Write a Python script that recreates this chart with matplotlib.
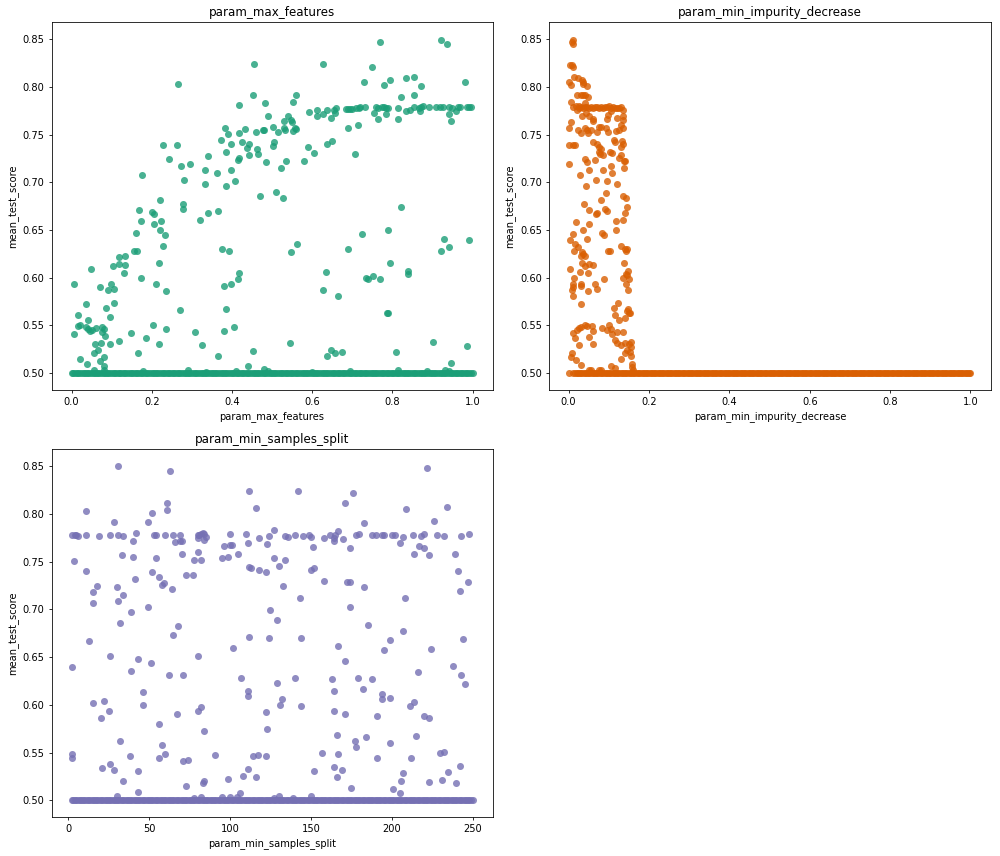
import numpy as np
import matplotlib
matplotlib.use("Agg")
import matplotlib.pyplot as plt

# (param value, mean_test_score)
max_features_pts = [
    (0.007,0.593),(0.006,0.541),(0.016,0.561),(0.016,0.549),(0.022,0.550),(0.035,0.548),(0.035,0.573),(0.04,0.556),
    (0.04,0.546),(0.047,0.544),(0.048,0.609),(0.052,0.545),(0.06,0.547),(0.058,0.531),(0.057,0.521),(0.065,0.524),
    (0.07,0.513),(0.07,0.59),(0.073,0.532),(0.076,0.548),(0.076,0.543),(0.08,0.546),(0.08,0.517),(0.08,0.507),
    (0.083,0.539),(0.085,0.568),(0.09,0.587),(0.095,0.559),(0.095,0.531),(0.098,0.593),(0.103,0.612),(0.105,0.588),
    (0.106,0.574),(0.118,0.534),(0.118,0.622),(0.118,0.614),(0.13,0.605),(0.133,0.613),(0.133,0.623),(0.148,0.542),
    (0.155,0.628),(0.16,0.647),(0.162,0.628),(0.165,0.521),(0.168,0.671),(0.173,0.66),(0.173,0.6),(0.176,0.708),
    (0.185,0.537),(0.2,0.669),(0.203,0.551),(0.205,0.656),(0.206,0.667),(0.21,0.593),(0.217,0.616),(0.218,0.531),
    (0.22,0.65),(0.22,0.682),(0.223,0.66),(0.228,0.633),(0.228,0.739),(0.234,0.645),(0.235,0.586),(0.235,0.546),
    (0.243,0.725),(0.263,0.739),(0.265,0.803),(0.27,0.566),(0.272,0.717),(0.277,0.672),(0.277,0.677),(0.28,0.703),
    (0.295,0.719),(0.308,0.543),(0.32,0.661),(0.325,0.53),(0.332,0.698),(0.332,0.713),(0.34,0.668),(0.34,0.728),
    (0.365,0.518),(0.365,0.67),(0.363,0.71),(0.373,0.745),(0.375,0.63),(0.38,0.544),(0.38,0.591),(0.383,0.757),
    (0.385,0.567),(0.385,0.696),(0.385,0.732),(0.393,0.628),(0.39,0.751),(0.397,0.593),(0.398,0.74),(0.398,0.713),
    (0.406,0.548),(0.408,0.701),(0.415,0.599),(0.416,0.724),(0.418,0.726),(0.418,0.605),(0.418,0.752),(0.418,0.781),
    (0.425,0.742),(0.432,0.756),(0.437,0.736),(0.44,0.508),(0.442,0.729),(0.443,0.74),(0.453,0.523),(0.453,0.792),
    (0.455,0.824),(0.46,0.753),(0.463,0.735),(0.465,0.73),(0.47,0.686),(0.478,0.755),(0.48,0.755),(0.483,0.783),
    (0.485,0.721),(0.49,0.77),(0.503,0.738),(0.505,0.742),(0.503,0.758),(0.51,0.69),(0.515,0.753),(0.522,0.715),
    (0.528,0.684),(0.53,0.757),(0.53,0.764),(0.533,0.755),(0.535,0.723),(0.54,0.77),(0.545,0.532),(0.548,0.766),
    (0.548,0.627),(0.55,0.763),(0.553,0.784),(0.553,0.754),(0.557,0.757),(0.56,0.756),(0.56,0.792),(0.563,0.635),
    (0.58,0.723),(0.59,0.737),(0.593,0.774),(0.605,0.731),(0.613,0.776),(0.613,0.77),(0.628,0.772),(0.628,0.824),
    (0.628,0.587),(0.635,0.606),(0.637,0.518),(0.637,0.74),(0.637,0.776),(0.648,0.524),(0.648,0.768),(0.65,0.743),
    (0.655,0.776),(0.658,0.521),(0.658,0.773),(0.66,0.778),(0.665,0.581),(0.675,0.522),(0.685,0.777),(0.69,0.63),
    (0.69,0.777),(0.688,0.757),(0.695,0.777),(0.70,0.777),(0.706,0.73),(0.71,0.778),(0.713,0.76),(0.716,0.778),
    (0.72,0.779),(0.723,0.646),(0.73,0.805),(0.732,0.779),(0.735,0.60),(0.738,0.599),(0.75,0.821),(0.752,0.602),
    (0.755,0.773),(0.76,0.779),(0.763,0.767),(0.765,0.778),(0.77,0.847),(0.77,0.599),(0.773,0.779),(0.78,0.802),
    (0.78,0.779),(0.785,0.772),(0.785,0.778),(0.786,0.563),(0.788,0.563),(0.788,0.65),(0.79,0.778),(0.793,0.807),
    (0.795,0.615),(0.808,0.522),(0.815,0.778),(0.815,0.767),(0.822,0.79),(0.822,0.674),(0.833,0.775),(0.835,0.81),
    (0.84,0.604),(0.84,0.607),(0.845,0.776),(0.853,0.779),(0.855,0.811),(0.855,0.792),(0.865,0.778),(0.868,0.775),
    (0.87,0.801),(0.87,0.779),(0.875,0.78),(0.892,0.779),(0.902,0.533),(0.908,0.779),(0.918,0.779),(0.92,0.628),
    (0.922,0.849),(0.925,0.779),(0.928,0.641),(0.935,0.845),(0.94,0.779),(0.942,0.632),(0.942,0.772),(0.945,0.764),
    (0.945,0.511),(0.948,0.778),(0.958,0.775),(0.963,0.779),(0.968,0.779),(0.982,0.805),(0.985,0.528),(0.985,0.779),
    (0.99,0.64),(0.99,0.779),(0.996,0.779),(0.022,0.515),(0.038,0.51),(0.055,0.503),(0.08,0.503),(0.178,0.502),
    (0.29,0.503),(0.335,0.501),(0.41,0.502),(0.48,0.504),(0.49,0.502),(0.6,0.501),(0.695,0.502),(0.815,0.503),
    (0.885,0.502),(0.93,0.503),(0.94,0.502),
]

impurity_pts = [
    (0.002,0.719),(0.002,0.739),(0.002,0.757),(0.002,0.805),(0.003,0.823),(0.006,0.763),(0.006,0.784),(0.006,0.802),
    (0.008,0.823),(0.009,0.847),(0.01,0.849),(0.012,0.845),(0.012,0.821),(0.01,0.779),(0.01,0.739),(0.015,0.739),
    (0.014,0.811),(0.02,0.792),(0.023,0.81),(0.018,0.78),(0.025,0.78),(0.022,0.776),(0.018,0.659),(0.01,0.646),
    (0.003,0.64),(0.015,0.635),(0.013,0.628),(0.023,0.632),(0.003,0.609),(0.013,0.6),(0.01,0.593),(0.01,0.59),
    (0.009,0.587),(0.01,0.581),(0.028,0.606),(0.03,0.593),(0.032,0.591),(0.03,0.573),(0.03,0.623),(0.033,0.627),
    (0.033,0.615),(0.036,0.625),(0.04,0.612),(0.042,0.623),(0.048,0.605),(0.05,0.614),(0.06,0.613),(0.048,0.586),
    (0.066,0.593),(0.07,0.588),(0.088,0.599),(0.045,0.641),(0.05,0.656),(0.035,0.65),(0.038,0.677),(0.05,0.671),
    (0.068,0.667),(0.07,0.668),(0.08,0.682),(0.082,0.647),(0.088,0.645),(0.09,0.672),(0.095,0.67),(0.093,0.689),
    (0.095,0.701),(0.028,0.708),(0.043,0.696),(0.05,0.713),(0.068,0.703),(0.085,0.713),(0.105,0.717),(0.108,0.71),
    (0.12,0.698),(0.047,0.721),(0.04,0.725),(0.065,0.724),(0.062,0.742),(0.07,0.74),(0.075,0.737),(0.08,0.735),
    (0.078,0.73),(0.085,0.729),(0.075,0.732),(0.103,0.732),(0.108,0.731),(0.113,0.745),(0.115,0.742),(0.125,0.726),
    (0.13,0.729),(0.03,0.752),(0.023,0.755),(0.04,0.757),(0.045,0.755),(0.048,0.752),(0.055,0.755),(0.07,0.753),
    (0.075,0.758),(0.08,0.758),(0.092,0.757),(0.098,0.753),(0.118,0.754),(0.125,0.755),(0.135,0.757),(0.06,0.764),
    (0.062,0.767),(0.05,0.77),(0.033,0.77),(0.043,0.773),(0.04,0.783),(0.03,0.792),(0.035,0.792),(0.04,0.792),
    (0.048,0.79),(0.033,0.807),(0.036,0.805),(0.046,0.801),(0.036,0.803),(0.096,0.767),(0.12,0.768),(0.13,0.76),
    (0.135,0.765),(0.135,0.77),(0.098,0.771),(0.105,0.775),(0.135,0.74),(0.132,0.743),(0.13,0.737),(0.138,0.723),
    (0.14,0.723),(0.137,0.715),(0.136,0.686),(0.143,0.684),(0.146,0.674),(0.14,0.668),(0.135,0.661),(0.117,0.66),
    (0.118,0.65),(0.13,0.633),(0.14,0.63),(0.145,0.63),(0.142,0.628),(0.137,0.616),(0.147,0.607),(0.146,0.603),
    (0.143,0.604),(0.15,0.599),(0.135,0.6),(0.143,0.593),(0.147,0.587),(0.097,0.628),(0.104,0.628),(0.122,0.574),
    (0.112,0.568),(0.115,0.561),(0.125,0.556),(0.14,0.558),(0.148,0.567),(0.15,0.563),(0.152,0.563),(0.146,0.565),
    (0.012,0.542),(0.02,0.545),(0.015,0.537),(0.025,0.547),(0.03,0.548),(0.04,0.551),(0.047,0.549),(0.058,0.549),
    (0.05,0.538),(0.06,0.544),(0.06,0.531),(0.025,0.53),(0.008,0.521),(0.005,0.517),(0.018,0.514),(0.03,0.509),
    (0.083,0.547),(0.095,0.545),(0.1,0.55),(0.105,0.546),(0.108,0.541),(0.115,0.535),(0.12,0.543),(0.135,0.543),
    (0.12,0.532),(0.13,0.53),(0.13,0.515),(0.14,0.521),(0.145,0.524),(0.14,0.532),(0.155,0.533),(0.15,0.531),
    (0.155,0.527),(0.153,0.522),(0.156,0.518),(0.158,0.51),(0.157,0.506),(0.16,0.503),(0.105,0.508),(0.115,0.505),
    (0.05,0.503),(0.055,0.503),(0.075,0.503),(0.08,0.503),(0.002,0.5),
]
# the flat run at about 0.78 in the impurity panel
impurity_band_x = [0.025,0.03,0.035,0.04,0.045,0.05,0.055,0.06,0.065,0.07,0.075,0.08,0.085,0.09,0.095,0.1,0.105,
                   0.11,0.115,0.12,0.125,0.13,0.135]
impurity_band_y = [0.778,0.779,0.778,0.779,0.779,0.778,0.779,0.778,0.779,0.779,0.778,0.779,0.778,0.779,0.779,0.78,
                   0.778,0.779,0.778,0.778,0.778,0.779,0.776]

samples_pts = [
    (2,0.778),(4,0.778),(5,0.778),(6,0.777),(3.5,0.751),(2,0.64),(2,0.549),(2,0.544),(11,0.803),(11,0.778),(11,0.74),
    (13,0.667),(15,0.718),(15,0.707),(15,0.602),(18,0.724),(19,0.777),(20,0.586),(22,0.604),(21,0.534),(25,0.594),
    (26,0.778),(26,0.651),(26,0.538),(28,0.792),(28,0.532),(30,0.723),(31,0.709),(31,0.85),(31,0.778),(30,0.505),
    (32,0.686),(32,0.562),(33,0.757),(34,0.777),(34,0.715),(34,0.52),(38,0.546),(39,0.697),(39,0.635),(40,0.772),
    (40,0.755),(41,0.732),(42,0.78),(43,0.648),(43,0.531),(43,0.509),(46,0.613),(46,0.6),(49,0.792),(49,0.703),
    (51,0.644),(52,0.801),(52,0.739),(53,0.778),(54,0.778),(54,0.754),(56,0.734),(56,0.58),(56,0.544),(58,0.726),
    (59,0.728),(58,0.558),(60,0.778),(60,0.549),(61,0.811),(61,0.804),(62,0.631),(63,0.845),(64,0.721),(65,0.778),
    (65,0.673),(66,0.771),(67,0.59),(68,0.683),(69,0.772),(69,0.778),(70,0.772),(70,0.758),(71,0.631),(71,0.541),
    (73,0.736),(73,0.515),(74,0.542),(77,0.736),(78,0.752),(78,0.502),(80,0.775),(80,0.778),(80,0.76),(80,0.651),
    (80,0.594),(81,0.778),(82,0.752),(82,0.779),(82,0.598),(82,0.503),(83,0.78),(83,0.518),(84,0.773),(84,0.779),
    (84,0.573),(85,0.776),(84,0.52),(91,0.547),(95,0.754),(96,0.766),(95,0.503),(99,0.755),(99,0.522),(100,0.779),
    (100,0.767),(101,0.767),(100,0.503),(102,0.66),(104,0.503),(105,0.758),(107,0.628),(106,0.508),(108,0.525),
    (110,0.779),(111,0.77),(111,0.615),(111,0.609),(111,0.533),(112,0.824),(112,0.744),(112,0.671),(113,0.743),
    (114,0.546),(116,0.806),(116,0.524),(117,0.547),(118,0.775),(118,0.741),(122,0.739),(122,0.593),(122,0.546),
    (123,0.769),(123,0.575),(124,0.777),(124,0.67),(125,0.699),(127,0.783),(127,0.754),(127,0.502),(129,0.623),
    (129,0.689),(130,0.745),(130,0.504),(131,0.6),(132,0.606),(133,0.725),(134,0.752),(134,0.777),(136,0.776),
    (139,0.502),(140,0.778),(140,0.628),(142,0.824),(143,0.712),(144,0.67),(144,0.599),(145,0.777),(149,0.778),
    (150,0.776),(150,0.741),(150,0.504),(151,0.765),(152,0.743),(152,0.531),(157,0.55),(158,0.775),(158,0.73),
    (162,0.778),(163,0.627),(164,0.775),(164,0.772),(164,0.614),(164,0.594),(164,0.535),(165,0.778),(166,0.568),
    (166,0.524),(167,0.782),(167,0.662),(167,0.548),(170,0.774),(169,0.532),(171,0.811),(171,0.646),(171,0.59),
    (172,0.729),(174,0.729),(174,0.764),(174,0.702),(175,0.513),(176,0.822),(177,0.562),(178,0.778),(178,0.556),
    (179,0.628),(180,0.779),(182,0.617),(183,0.791),(183,0.723),(184,0.566),(185,0.684),(188,0.778),(188,0.627),
    (190,0.778),(191,0.588),(191,0.544),(194,0.778),(194,0.611),(194,0.606),(195,0.778),(195,0.657),(199,0.668),
    (199,0.607),(199,0.56),(200,0.778),(202,0.778),(201,0.512),(205,0.77),(205,0.508),(206,0.52),(207,0.776),
    (207,0.677),(207,0.529),(208,0.712),(209,0.805),(211,0.599),(212,0.544),(213,0.778),(214,0.758),(214,0.603),
    (215,0.567),(216,0.634),(217,0.766),(218,0.777),(220,0.779),(220,0.764),(220,0.588),(222,0.848),(223,0.757),
    (223,0.586),(223,0.519),(224,0.659),(226,0.793),(228,0.778),(230,0.55),(231,0.521),(232,0.777),(232,0.551),
    (234,0.807),(235,0.53),(238,0.641),(239,0.758),(240,0.518),(241,0.74),(242,0.719),(242,0.536),(243,0.777),
    (243,0.631),(244,0.669),(245,0.622),(247,0.729),(248,0.779),
]

# runs that sit on the 0.5 floor
floor_features = [0.0,0.004,0.008,0.013,0.017,0.021,0.025,0.03,0.034,0.038,0.042,0.046,0.05,0.055,0.059,0.063,0.067,
                  0.072,0.076,0.08,0.084,0.088,0.092,0.097,0.101,0.105,0.109,0.114,0.118,0.122,0.126,0.13,0.134,0.139,
                  0.143,0.147,0.151,0.156,0.16,0.164,0.168,0.172,0.176,0.181,0.185,0.189,0.193,0.198,0.202,0.206,0.21,
                  0.214,0.218,0.223,0.227,0.231,0.235,0.24,0.244,0.248,0.252,0.256,0.26,0.265,0.269,0.273,0.277,0.282,
                  0.286,0.29,0.294,0.298,0.302,0.307,0.311,0.315,0.319,0.324,0.328,0.332,0.336,0.34,0.344,0.349,0.353,
                  0.357,0.361,0.366,0.37,0.374,0.378,0.382,0.386,0.391,0.395,0.399,0.403,0.408,0.412,0.416,0.42,0.424,
                  0.428,0.433,0.437,0.441,0.445,0.45,0.454,0.458,0.462,0.466,0.47,0.475,0.479,0.483,0.487,0.492,0.496,
                  0.5,0.504,0.508,0.512,0.517,0.521,0.525,0.529,0.534,0.538,0.542,0.546,0.55,0.554,0.559,0.563,0.567,
                  0.571,0.576,0.58,0.584,0.588,0.592,0.596,0.601,0.605,0.609,0.613,0.618,0.622,0.626,0.63,0.634,0.638,
                  0.643,0.647,0.651,0.655,0.66,0.664,0.668,0.672,0.676,0.68,0.685,0.689,0.693,0.697,0.702,0.706,0.71,
                  0.714,0.718,0.722,0.727,0.731,0.735,0.739,0.744,0.748,0.752,0.756,0.76,0.764,0.769,0.773,0.777,0.781,
                  0.786,0.79,0.794,0.798,0.802,0.806,0.811,0.815,0.819,0.823,0.828,0.832,0.836,0.84,0.844,0.848,0.853,
                  0.857,0.861,0.865,0.87,0.874,0.878,0.882,0.886,0.89,0.895,0.899,0.903,0.907,0.912,0.916,0.92,0.924,
                  0.928,0.932,0.937,0.941,0.945,0.949,0.954,0.958,0.962,0.966,0.97,0.974,0.979,0.983,0.987,0.991,0.996,1.0]
floor_impurity = [0.012,0.016,0.02,0.024,0.028,0.032,0.036,0.04,0.044,0.048,0.052,0.056,0.06,0.064,0.068,0.072,0.076,
                  0.08,0.084,0.088,0.092,0.096,0.1,0.104,0.108,0.112,0.116,0.12,0.124,0.128,0.132,0.136,0.14,0.144,
                  0.148,0.152,0.156,0.16,0.164,0.168,0.172,0.176,0.18,0.184,0.188,0.192,0.196,0.2,0.204,0.208,0.212,
                  0.216,0.22,0.224,0.228,0.232,0.236,0.24,0.244,0.248,0.252,0.256,0.26,0.264,0.268,0.272,0.276,0.28,
                  0.284,0.288,0.292,0.296,0.3,0.304,0.308,0.312,0.316,0.32,0.324,0.328,0.332,0.336,0.34,0.344,0.348,
                  0.352,0.356,0.36,0.364,0.368,0.372,0.376,0.38,0.384,0.388,0.392,0.396,0.4,0.404,0.408,0.412,0.416,
                  0.42,0.424,0.428,0.432,0.436,0.44,0.444,0.448,0.452,0.456,0.46,0.464,0.468,0.472,0.476,0.48,0.484,
                  0.488,0.492,0.496,0.5,0.504,0.508,0.512,0.516,0.52,0.524,0.528,0.532,0.536,0.54,0.544,0.548,0.552,
                  0.556,0.56,0.564,0.568,0.572,0.576,0.58,0.584,0.588,0.592,0.596,0.6,0.604,0.608,0.612,0.616,0.62,
                  0.624,0.628,0.632,0.636,0.64,0.644,0.648,0.652,0.656,0.66,0.664,0.668,0.672,0.676,0.68,0.684,0.688,
                  0.692,0.696,0.7,0.704,0.708,0.712,0.716,0.72,0.724,0.728,0.732,0.736,0.74,0.744,0.748,0.752,0.756,
                  0.76,0.764,0.768,0.772,0.776,0.78,0.784,0.788,0.792,0.796,0.8,0.804,0.808,0.812,0.816,0.82,0.824,
                  0.828,0.832,0.836,0.84,0.844,0.848,0.852,0.856,0.86,0.864,0.868,0.872,0.876,0.88,0.884,0.888,0.892,
                  0.896,0.9,0.904,0.908,0.912,0.916,0.92,0.924,0.928,0.932,0.936,0.94,0.944,0.948,0.952,0.956,0.96,
                  0.964,0.968,0.972,0.976,0.98,0.984,0.988,0.992,0.996,1.0]
floor_samples = [2,3,4,5,6,7,8,9,10,11,12,13,14,15,16,17,18,19,20,21,22,23,24,25,26,27,28,29,30,31,32,33,34,35,36,37,
                 38,39,40,41,42,43,44,45,46,47,48,49,50,51,52,53,54,55,56,57,58,59,60,61,62,63,64,65,66,67,68,69,70,71,
                 72,73,74,75,76,77,78,79,80,81,82,83,84,85,86,87,88,89,90,91,92,93,94,95,96,97,98,99,100,101,102,103,
                 104,105,106,107,108,109,110,111,112,113,114,115,116,117,118,119,120,121,122,123,124,125,126,127,128,
                 129,130,131,132,133,134,135,136,137,138,139,140,141,142,143,144,145,146,147,148,149,150,151,152,153,
                 154,155,156,157,158,159,160,161,162,163,164,165,166,167,168,169,170,171,172,173,174,175,176,177,178,
                 179,180,181,182,183,184,185,186,187,188,189,190,191,192,193,194,195,196,197,198,199,200,201,202,203,
                 204,205,206,207,208,209,210,211,212,213,214,215,216,217,218,219,220,221,222,223,224,225,226,227,228,
                 229,230,231,232,233,234,235,236,237,238,239,240,241,242,243,244,245,246,247,248,249,250]
floor_score = 0.5

W, H = 1000.0, 856.0
fig = plt.figure(figsize=(14, 11.984), dpi=71.43)


def box(left, top, right, bottom):
    return [left / W, 1 - bottom / H, (right - left) / W, (bottom - top) / H]


def panel(rect, name, pts, floor, color, extra_x=(), extra_y=()):
    ax = fig.add_axes(rect)
    px = [p[0] for p in pts] + list(extra_x) + list(floor)
    py = [p[1] for p in pts] + list(extra_y) + [floor_score] * len(floor)
    ax.scatter(px, py, s=50, color=color, alpha=0.8, linewidths=0)
    ax.set_ylim(0.482, 0.868)
    ax.set_title(name)
    ax.set_xlabel(name)
    ax.set_ylabel("mean_test_score")
    return ax


panel(box(51.5, 22.3, 492.7, 390.3), "param_max_features", max_features_pts, floor_features, "#1b9e77")
panel(box(549.3, 22.3, 990.5, 390.3), "param_min_impurity_decrease", impurity_pts, floor_impurity, "#d95f02",
      impurity_band_x, impurity_band_y)
panel(box(51.5, 449, 492.7, 817.5), "param_min_samples_split", samples_pts, floor_samples, "#7570b3")

fig.savefig("out.png", dpi=71.43, facecolor="white")
